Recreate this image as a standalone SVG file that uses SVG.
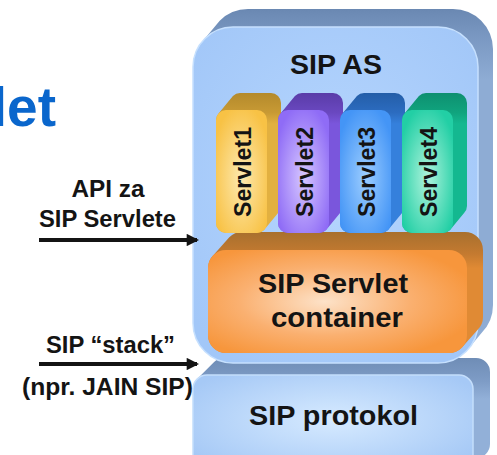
<svg xmlns="http://www.w3.org/2000/svg" width="497" height="455" viewBox="0 0 497 455">
  <style>
    .lbl { font-family: "Liberation Sans", Arial, sans-serif; font-weight: bold; fill: #141414; text-anchor: middle; }
    .big { font-size: 27.5px; }
    .side { font-size: 23px; }
    .sv { font-size: 23px; }
    .title { font-family: "Liberation Sans", Arial, sans-serif; font-weight: bold; font-size: 55px; fill: #0a66cc; text-anchor: end; }
    .conn { stroke: #141414; stroke-width: 4; fill: none; marker-end: url(#head); }
  </style>
  <defs>
    <marker id="head" viewBox="0 0 12 12" refX="10" refY="6" markerWidth="3.3" markerHeight="3.1" orient="auto" markerUnits="strokeWidth">
      <path d="M0,0 L12,6 L0,12 Z" fill="#141414"/>
    </marker>
    <!-- front faces -->
    <radialGradient id="gAS" cx="0.5" cy="0.45" r="0.65">
      <stop offset="0" stop-color="#b6d6fe"/>
      <stop offset="1" stop-color="#a2c7f8"/>
    </radialGradient>
    <radialGradient id="gProt" cx="0.5" cy="0.45" r="0.6">
      <stop offset="0" stop-color="#d6eaff"/>
      <stop offset="1" stop-color="#a6c9f6"/>
    </radialGradient>
    <radialGradient id="gCont" cx="0.45" cy="0.5" r="0.6">
      <stop offset="0" stop-color="#fde2c8"/>
      <stop offset="0.55" stop-color="#fab070"/>
      <stop offset="1" stop-color="#f7963c"/>
    </radialGradient>
    <radialGradient id="gS1" cx="0.5" cy="0.55" r="0.6">
      <stop offset="0" stop-color="#fde9b0"/>
      <stop offset="1" stop-color="#f8c245"/>
    </radialGradient>
    <radialGradient id="gS2" cx="0.5" cy="0.55" r="0.6">
      <stop offset="0" stop-color="#d6c6ff"/>
      <stop offset="1" stop-color="#8f6cf6"/>
    </radialGradient>
    <radialGradient id="gS3" cx="0.5" cy="0.55" r="0.6">
      <stop offset="0" stop-color="#9ccdff"/>
      <stop offset="1" stop-color="#4495f6"/>
    </radialGradient>
    <radialGradient id="gS4" cx="0.5" cy="0.55" r="0.6">
      <stop offset="0" stop-color="#aef3dc"/>
      <stop offset="1" stop-color="#22cfa5"/>
    </radialGradient>
    <!-- extruded sides: darker top, lighter right side -->
    <linearGradient id="eAS" x1="0" y1="0" x2="0" y2="1">
      <stop offset="0" stop-color="#6a88b2"/>
      <stop offset="0.08" stop-color="#7a98c2"/>
      <stop offset="0.2" stop-color="#8eacd4"/>
      <stop offset="1" stop-color="#8eacd4"/>
    </linearGradient>
    <linearGradient id="eProt" x1="0" y1="0" x2="0" y2="1">
      <stop offset="0" stop-color="#6f8db6"/>
      <stop offset="0.2" stop-color="#7e9cc6"/>
      <stop offset="0.35" stop-color="#92b0d8"/>
      <stop offset="1" stop-color="#92b0d8"/>
    </linearGradient>
    <linearGradient id="eCont" x1="0" y1="0" x2="0" y2="1">
      <stop offset="0" stop-color="#a8702e"/>
      <stop offset="0.18" stop-color="#c47a30"/>
      <stop offset="0.3" stop-color="#e08a34"/>
      <stop offset="1" stop-color="#e08a34"/>
    </linearGradient>
    <linearGradient id="eS1" x1="0" y1="0" x2="0" y2="1">
      <stop offset="0" stop-color="#b48a2c"/>
      <stop offset="0.14" stop-color="#c89a34"/>
      <stop offset="0.22" stop-color="#e2b040"/>
      <stop offset="1" stop-color="#e2b040"/>
    </linearGradient>
    <linearGradient id="eS2" x1="0" y1="0" x2="0" y2="1">
      <stop offset="0" stop-color="#5a3ca8"/>
      <stop offset="0.14" stop-color="#6a48c0"/>
      <stop offset="0.22" stop-color="#7a56dc"/>
      <stop offset="1" stop-color="#7a56dc"/>
    </linearGradient>
    <linearGradient id="eS3" x1="0" y1="0" x2="0" y2="1">
      <stop offset="0" stop-color="#245ea8"/>
      <stop offset="0.14" stop-color="#2c6cc0"/>
      <stop offset="0.22" stop-color="#3580dc"/>
      <stop offset="1" stop-color="#3580dc"/>
    </linearGradient>
    <linearGradient id="eS4" x1="0" y1="0" x2="0" y2="1">
      <stop offset="0" stop-color="#0e9070"/>
      <stop offset="0.14" stop-color="#10a47e"/>
      <stop offset="0.22" stop-color="#14b890"/>
      <stop offset="1" stop-color="#14b890"/>
    </linearGradient>
    <!-- servlet block shapes, drawn at x = 0 -->
    <path id="svSide" d="M2.93,112.93 L16.93,95.93 A10,10 0 0 1 24,93 H55 A10,10 0 0 1 65,103 V206 A10,10 0 0 1 62.07,213.07 L48.07,230.07 A10,10 0 0 1 41,233 H10 A10,10 0 0 1 0,223 V120 A10,10 0 0 1 2.93,112.93 Z"/>
    <rect id="svFront" x="0" y="110" width="51" height="123" rx="10"/>
  </defs>

  <!-- heading fragment -->
  <text class="title" x="56" y="126">let</text>

  <!-- SIP protocol layer -->
  <g id="sip-protokol">
    <path d="M197.1,379.1 L214.1,362.1 A14,14 0 0 1 224,358 H476 A14,14 0 0 1 490,372 V444 A14,14 0 0 1 485.9,453.9 L468.9,470.9 A14,14 0 0 1 459,475 H207 A14,14 0 0 1 193,461 V389 A14,14 0 0 1 197.1,379.1 Z" fill="url(#eProt)"/>
    <rect x="193" y="375" width="280" height="100" rx="14" fill="url(#gProt)" stroke="#c4defc" stroke-width="1.5"/>
    <text class="lbl big" x="333.5" y="425" textLength="169" lengthAdjust="spacingAndGlyphs">SIP protokol</text>
  </g>

  <!-- SIP application server -->
  <g id="sip-as">
    <path d="M204.7,38.7 L219.7,20.7 A40,40 0 0 1 248,9 H453 A40,40 0 0 1 493,49 V305 A40,40 0 0 1 481.3,333.3 L466.3,351.3 A40,40 0 0 1 438,363 H233 A40,40 0 0 1 193,323 V67 A40,40 0 0 1 204.7,38.7 Z" fill="url(#eAS)"/>
    <rect x="193" y="27" width="285" height="336" rx="40" fill="url(#gAS)" stroke="#c6e0fe" stroke-width="1.5"/>
    <text class="lbl big" x="336" y="74" textLength="92" lengthAdjust="spacingAndGlyphs">SIP AS</text>
  </g>

  <!-- servlet container -->
  <g id="container">
    <path d="M213.3,255.3 L229.3,237.3 A18,18 0 0 1 242,232 H465 A18,18 0 0 1 483,250 V317 A18,18 0 0 1 477.7,329.7 L461.7,347.7 A18,18 0 0 1 449,353 H226 A18,18 0 0 1 208,335 V268 A18,18 0 0 1 213.3,255.3 Z" fill="url(#eCont)"/>
    <rect x="208" y="250" width="259" height="103" rx="18" fill="url(#gCont)"/>
    <text class="lbl big" x="333" y="293" textLength="150" lengthAdjust="spacingAndGlyphs">SIP Servlet</text>
    <text class="lbl big" x="337" y="327" textLength="132" lengthAdjust="spacingAndGlyphs">container</text>
  </g>

  <!-- servlets -->
  <g id="servlet1" transform="translate(216,0)">
    <use href="#svSide" fill="url(#eS1)"/>
    <use href="#svFront" fill="url(#gS1)"/>
    <text class="lbl sv" transform="translate(34.5,172) rotate(-90)" textLength="90" lengthAdjust="spacingAndGlyphs">Servlet1</text>
  </g>
  <g id="servlet2" transform="translate(278,0)">
    <use href="#svSide" fill="url(#eS2)"/>
    <use href="#svFront" fill="url(#gS2)"/>
    <text class="lbl sv" transform="translate(34.5,172) rotate(-90)" textLength="90" lengthAdjust="spacingAndGlyphs">Servlet2</text>
  </g>
  <g id="servlet3" transform="translate(340,0)">
    <use href="#svSide" fill="url(#eS3)"/>
    <use href="#svFront" fill="url(#gS3)"/>
    <text class="lbl sv" transform="translate(34.5,172) rotate(-90)" textLength="90" lengthAdjust="spacingAndGlyphs">Servlet3</text>
  </g>
  <g id="servlet4" transform="translate(402,0)">
    <use href="#svSide" fill="url(#eS4)"/>
    <use href="#svFront" fill="url(#gS4)"/>
    <text class="lbl sv" transform="translate(34.5,172) rotate(-90)" textLength="90" lengthAdjust="spacingAndGlyphs">Servlet4</text>
  </g>

  <!-- interface labels -->
  <g id="labels">
    <text class="lbl side" x="108" y="197" textLength="73" lengthAdjust="spacingAndGlyphs">API za</text>
    <text class="lbl side" x="107.5" y="227" textLength="137" lengthAdjust="spacingAndGlyphs">SIP Servlete</text>
    <text class="lbl side" x="110.5" y="353" textLength="129" lengthAdjust="spacingAndGlyphs">SIP “stack”</text>
    <text class="lbl side" x="107.5" y="395" textLength="171" lengthAdjust="spacingAndGlyphs">(npr. JAIN SIP)</text>
  </g>

  <!-- connectors -->
  <g id="connectors">
    <line class="conn" x1="39" y1="240" x2="197" y2="240"/>
    <line class="conn" x1="39" y1="364" x2="197" y2="364"/>
  </g>
</svg>
